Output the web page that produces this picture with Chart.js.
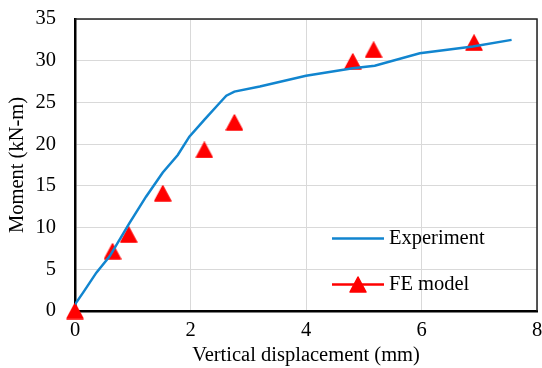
<!DOCTYPE html>
<html>
<head>
<meta charset="utf-8">
<script src="https://cdn.jsdelivr.net/npm/chart.js@4/dist/chart.umd.min.js"></script>
<style>
  html, body { margin: 0; padding: 0; background: #fff; }
  #wrap { width: 542px; height: 368px; position: relative; }
</style>
</head>
<body>
<div id="wrap"><canvas id="chart"></canvas></div>
<script>
/* ---------- data ---------- */
const expX = [0, 0.14, 0.37, 0.6, 0.94, 1.23, 1.49, 1.52, 1.78, 1.98, 2.25, 2.5, 2.62, 2.76, 3.2, 4.0, 4.81, 5.19, 5.97, 6.89, 7.56];
const expY = [0.8, 2.2, 4.6, 6.55, 10.5, 13.7, 16.3, 16.6, 18.7, 20.9, 23.0, 24.9, 25.8, 26.3, 26.9, 28.2, 29.1, 29.4, 30.9, 31.7, 32.5];
const feX  = [0, 0.65, 0.93, 1.52, 2.24, 2.76, 4.81, 5.17, 6.91];
const feY  = [0, 7.15, 9.15, 14.1, 19.3, 22.6, 29.9, 31.3, 32.15];
const xTicks = [0, 2, 4, 6, 8];
const yTicks = [0, 5, 10, 15, 20, 25, 30, 35];
const seriesNames = ['Experiment', 'FE model'];

const BLUE = '#1185CF';
const RED  = '#FF0000';
const FONT = "'Liberation Serif', 'Times New Roman', serif";
const FS   = 20.5;

/* ---------- triangle marker (box-centred like Excel) ---------- */
function triMarker(w, h) {
  const c = document.createElement('canvas');
  c.width = w; c.height = h;
  const g = c.getContext('2d');
  g.fillStyle = RED;
  g.strokeStyle = RED;
  g.lineJoin = 'round';
  g.lineWidth = 1.5;
  g.beginPath();
  g.moveTo(w / 2, 1);
  g.lineTo(w - 1, h - 1);
  g.lineTo(1, h - 1);
  g.closePath();
  g.fill();
  g.stroke();
  return c;
}
const tri = triMarker(18, 17);

/* ---------- plugins ---------- */
const frame = {
  id: 'frame',
  afterDraw(chart) {
    const { ctx, chartArea: a } = chart;
    ctx.save();
    ctx.strokeStyle = '#222';
    ctx.lineWidth = 1.5;
    ctx.beginPath();
    ctx.moveTo(a.left, a.top);
    ctx.lineTo(a.right, a.top);
    ctx.lineTo(a.right, a.bottom);
    ctx.stroke();
    ctx.restore();
  }
};

const inLegend = {
  id: 'inLegend',
  afterDraw(chart) {
    const { ctx } = chart;
    ctx.save();
    ctx.font = FS + 'px ' + FONT;
    ctx.fillStyle = '#000';
    ctx.textBaseline = 'middle';
    ctx.lineWidth = 2.5;
    // Experiment
    ctx.strokeStyle = BLUE;
    ctx.beginPath(); ctx.moveTo(332, 238.5); ctx.lineTo(384, 238.5); ctx.stroke();
    ctx.fillText(seriesNames[0], 389, 239);
    // FE model
    ctx.strokeStyle = RED;
    ctx.beginPath(); ctx.moveTo(332, 284.5); ctx.lineTo(384, 284.5); ctx.stroke();
    ctx.drawImage(tri, 358 - 9, 284.5 - 8.5);
    ctx.fillText(seriesNames[1], 389, 285);
    ctx.restore();
  }
};

/* ---------- chart ---------- */
new Chart(document.getElementById('chart'), {
  type: 'scatter',
  data: {
    datasets: [
      {
        label: seriesNames[0],
        data: expX.map((x, i) => ({ x, y: expY[i] })),
        showLine: true,
        borderColor: BLUE,
        borderWidth: 2.5,
        pointRadius: 0,
        tension: 0
      },
      {
        label: seriesNames[1],
        data: feX.map((x, i) => ({ x, y: feY[i] })),
        showLine: false,
        clip: false,
        pointStyle: tri,
        pointRadius: 9,
        backgroundColor: RED,
        borderColor: RED
      }
    ]
  },
  options: {
    responsive: true,
    maintainAspectRatio: false,
    animation: false,
    layout: { autoPadding: false, padding: { top: 19, right: 5, left: 0, bottom: 0 } },
    plugins: { legend: { display: false }, tooltip: { enabled: false } },
    scales: {
      x: {
        type: 'linear',
        min: xTicks[0], max: xTicks[xTicks.length - 1],
        afterBuildTicks: s => { s.ticks = xTicks.map(v => ({ value: v })); },
        afterFit: s => { s.height = 57; s.paddingLeft = 0; s.paddingRight = 0; },
        grid: { color: '#D9D9D9', lineWidth: 1, drawTicks: false },
        border: { color: '#000', width: 2.5 },
        ticks: { color: '#000', padding: 7, font: { family: FONT, size: FS } },
        title: {
          display: true, text: 'Vertical displacement (mm)', color: '#000',
          font: { family: FONT, size: FS }, padding: { top: 0, bottom: 0 }
        }
      },
      y: {
        type: 'linear',
        min: yTicks[0], max: yTicks[yTicks.length - 1],
        afterBuildTicks: s => { s.ticks = yTicks.map(v => ({ value: v })); },
        afterFit: s => { s.width = 75; s.paddingTop = 0; s.paddingBottom = 0; },
        grid: { color: '#D9D9D9', lineWidth: 1, drawTicks: false },
        border: { color: '#000', width: 2.5 },
        ticks: { color: '#000', padding: 19, font: { family: FONT, size: FS } },
        title: {
          display: true, text: 'Moment (kN-m)', color: '#000',
          font: { family: FONT, size: FS }, padding: { top: 5, bottom: 0 }
        }
      }
    }
  },
  plugins: [frame, inLegend]
});
</script>
</body>
</html>
